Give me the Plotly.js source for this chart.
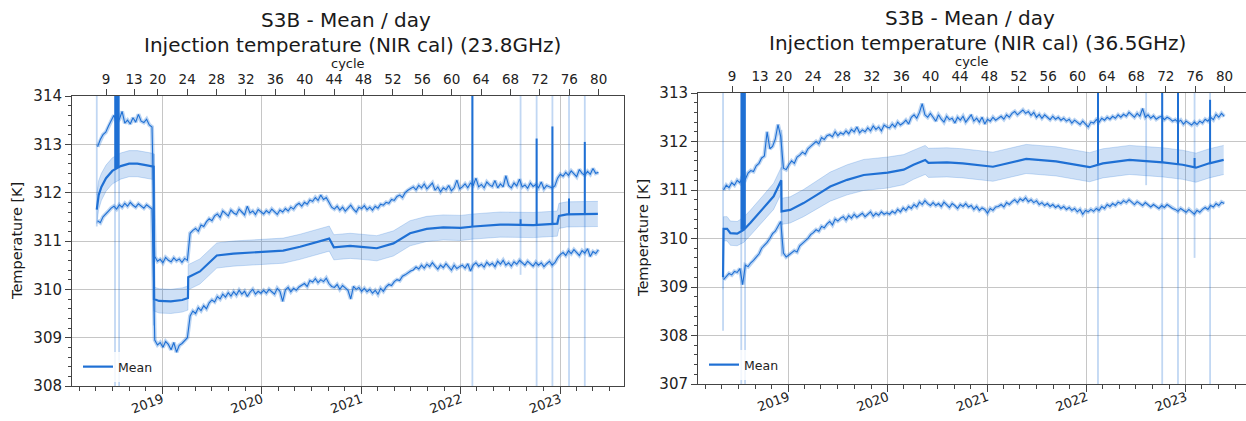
<!DOCTYPE html>
<html><head><meta charset="utf-8">
<script src="https://cdn.plot.ly/plotly-3.0.1.min.js"></script>
<style>html,body{margin:0;padding:0;background:#fff}#chart{width:1246px;height:421px}</style>
</head><body><div id="chart"></div>
<script>
// ---------------- DATA ----------------
const cycleLabels = ['9','13','20','24','28','32','36','40','44','48','52','56','60','64','68','72','76','80'];
const cycleDates = ['2018-06-08','2018-09-19','2018-12-15','2019-04-02','2019-07-19','2019-11-04','2020-02-20','2020-06-07','2020-09-23','2021-01-09','2021-04-27','2021-08-13','2021-11-29','2022-03-17','2022-07-03','2022-10-19','2023-02-04','2023-05-23'];

// daily-extreme series sampled every 10 days starting at this date
const gridStart = '2018-05-08';
const gridStepDays = 10;

// ---- 23.8 GHz ----
const meanDates238 = ['2018-05-05','2018-05-12','2018-05-22','2018-06-08','2018-07-01','2018-08-01','2018-09-01','2018-10-01','2018-11-01','2018-11-30','2018-12-01','2018-12-20','2019-02-01','2019-03-15','2019-04-05','2019-04-06','2019-05-19','2019-06-13','2019-07-20','2019-09-19','2020-01-01','2020-03-20','2020-05-21','2020-07-21','2020-09-05','2020-09-22','2020-11-21','2021-01-01','2021-02-27','2021-04-29','2021-06-29','2021-08-29','2021-10-29','2022-01-01','2022-02-17','2022-05-26','2022-09-25','2022-12-22','2022-12-28','2023-01-26','2023-05-20'];
const mean238 = [311.65,311.95,312.12,312.3,312.45,312.55,312.6,312.6,312.57,312.54,309.8,309.76,309.75,309.78,309.82,310.25,310.37,310.5,310.7,310.74,310.78,310.8,310.88,310.98,311.05,310.87,310.9,310.88,310.85,310.95,311.16,311.25,311.28,311.27,311.3,311.34,311.33,311.36,311.52,311.55,311.56];
const std238 = [0.3,0.3,0.28,0.27,0.27,0.27,0.27,0.27,0.27,0.27,0.25,0.25,0.25,0.25,0.25,0.26,0.26,0.26,0.26,0.26,0.26,0.26,0.26,0.26,0.26,0.26,0.26,0.26,0.26,0.26,0.26,0.26,0.26,0.26,0.26,0.26,0.26,0.26,0.26,0.26,0.26];
const max238 = [312.95,313.1,313.2,313.25,313.38,313.5,313.6,313.45,313.52,313.68,313.44,313.5,313.42,313.55,313.46,313.62,313.48,313.45,313.52,313.4,313.36,
 310.68,310.58,310.62,310.55,310.66,310.6,310.57,310.65,310.59,310.63,310.56,310.64,310.6,
 311.16,311.22,311.26,311.2,311.33,311.3,311.4,311.46,311.42,311.52,311.56,311.49,311.62,311.57,311.52,311.64,311.58,311.55,311.66,311.6,311.54,311.72,311.58,311.62,311.55,311.65,311.6,
 311.56,311.63,311.58,311.66,311.6,311.55,311.64,311.6,311.67,311.62,311.7,311.66,311.74,311.78,
 311.72,311.8,311.76,311.85,311.82,311.9,311.84,311.95,311.86,311.9,311.8,311.7,
 311.66,311.72,311.64,311.7,311.62,311.68,311.74,311.66,311.6,311.7,311.67,311.73,311.65,311.7,311.64,311.72,311.68,311.76,311.74,
 311.8,311.78,311.86,311.84,311.92,311.95,311.9,312.0,312.05,312.09,
 312.12,312.06,312.15,312.1,312.18,312.08,312.13,312.2,312.05,312.12,312.02,312.1,312.06,312.15,312.04,312.1,312.26,312.08,
 312.12,312.18,312.1,312.2,312.15,312.3,312.12,312.17,312.1,312.22,312.16,312.13,312.25,312.1,312.18,312.12,312.35,312.15,312.1,312.2,312.14,312.28,312.12,312.16,312.09,312.2,312.13,312.17,312.1,312.22,312.08,312.15,312.12,312.1,312.14,
 312.3,312.38,312.34,312.42,312.36,312.45,312.38,312.33,312.48,312.4,312.36,312.44,312.38,312.5,312.4,312.42];
const min238 = [311.42,311.38,311.5,311.55,311.62,311.68,311.72,311.66,311.75,311.7,311.78,311.72,311.8,311.74,311.7,311.77,311.72,311.68,311.75,311.7,311.66,
 308.95,308.85,308.9,308.8,308.92,308.86,308.75,308.9,308.7,308.84,308.88,308.95,309.0,
 309.45,309.55,309.5,309.62,309.56,309.66,309.6,309.72,309.78,309.74,309.85,309.8,309.9,309.84,309.93,309.86,309.95,309.88,309.98,309.9,309.96,309.85,309.94,310.0,309.9,309.96,309.92,
 309.98,309.92,310.0,309.95,309.9,310.02,309.96,309.75,309.99,310.04,309.95,310.02,309.98,310.05,
 310.08,310.12,310.06,310.18,310.15,310.22,310.14,310.2,310.16,310.23,310.12,310.06,
 310.04,310.1,310.0,310.08,310.03,309.98,309.8,310.06,310.0,310.04,309.96,310.02,309.95,310.0,309.92,309.98,309.9,310.02,309.96,
 310.05,310.1,310.08,310.16,310.2,310.18,310.27,310.3,310.34,310.38,
 310.4,310.46,310.42,310.5,310.44,310.52,310.47,310.55,310.48,310.42,310.5,310.45,310.53,310.46,310.4,310.5,310.43,310.47,
 310.5,310.44,310.53,310.38,310.5,310.55,310.48,310.52,310.46,310.56,310.5,310.54,310.47,310.58,310.52,310.6,310.5,310.55,310.48,310.57,310.52,310.6,310.54,310.5,310.58,310.53,310.48,310.56,310.5,310.55,310.47,310.53,310.58,310.5,310.55,
 310.65,310.72,310.76,310.7,310.8,310.74,310.82,310.76,310.7,310.8,310.75,310.84,310.68,310.78,310.74,310.82];
// days with a very large spread (light strips) and off-scale daily means (dark spikes)
const stripDates238 = ['2018-05-05','2018-07-11','2018-07-26','2018-12-01','2022-02-13','2022-08-09','2022-10-07','2022-12-04','2023-02-03','2023-04-02'];
const stripLow238 = [311.3,307.5,307.5,309.25,307.5,310.3,307.5,307.5,307.5,307.5];
const stripHigh238 = [314.5,314.5,314.5,312.8,314.5,314.5,314.5,314.5,314.5,314.5];
const spikeDates238 = ['2018-07-12','2018-07-15','2018-07-18','2018-07-21','2018-07-24','2022-02-13','2022-08-09','2022-10-07','2022-12-04','2023-02-03','2023-04-02'];
const spikeBase238 = [312.5,312.5,312.52,312.52,312.53,311.3,311.33,311.33,311.35,311.55,311.56];
const spikeTop238 = [314.5,314.5,314.5,314.5,314.5,314.5,311.45,313.12,313.37,311.88,313.05];

// ---- 36.5 GHz ----
const meanDates365 = ['2018-05-06','2018-05-08','2018-05-21','2018-06-02','2018-06-27','2018-07-21','2018-08-14','2018-10-02','2018-11-08','2018-12-06','2018-12-07','2019-01-08','2019-02-26','2019-04-16','2019-06-04','2019-08-05','2019-10-05','2020-01-01','2020-02-29','2020-04-05','2020-05-18','2020-05-30','2020-08-06','2020-10-03','2021-01-22','2021-05-24','2021-09-11','2022-01-12','2022-03-02','2022-06-08','2022-10-08','2022-12-20','2023-02-07','2023-03-28','2023-05-20'];
const mean365 = [309.2,310.2,310.2,310.11,310.1,310.18,310.32,310.63,310.87,311.2,310.56,310.59,310.73,310.9,311.07,311.21,311.31,311.36,311.42,311.52,311.62,311.56,311.57,311.55,311.48,311.64,311.59,311.47,311.55,311.62,311.57,311.52,311.46,311.55,311.62];
const std365 = [0.25,0.25,0.25,0.25,0.25,0.26,0.26,0.27,0.27,0.27,0.27,0.27,0.28,0.29,0.3,0.31,0.32,0.32,0.31,0.3,0.3,0.3,0.3,0.3,0.3,0.3,0.3,0.3,0.3,0.3,0.3,0.3,0.3,0.3,0.3];
const max365 = [311.0,311.1,311.05,311.15,311.1,311.2,311.15,311.28,311.22,311.35,311.4,311.38,311.5,311.55,311.66,311.7,312.2,311.85,311.9,312.05,312.35,312.1,
 311.45,311.42,311.52,311.6,311.55,311.68,311.72,311.78,311.74,311.85,311.9,311.95,
 312.0,311.95,312.08,312.04,312.12,312.14,312.1,312.2,312.12,312.18,312.15,312.22,312.16,312.25,312.2,312.3,312.18,312.24,312.2,312.28,312.22,312.32,312.25,312.3,312.22,312.34,312.3,
 312.28,312.36,312.3,312.4,312.34,312.38,312.44,312.36,312.5,312.55,312.48,312.6,312.78,312.55,312.5,312.58,
 312.5,312.42,312.55,312.46,312.4,312.52,312.45,312.48,312.38,312.5,312.44,312.52,312.4,312.47,312.55,312.42,312.48,312.4,312.5,312.36,312.46,312.42,312.5,312.44,
 312.48,312.52,312.46,312.55,312.5,312.58,312.62,312.55,312.6,312.65,312.58,312.62,312.54,312.6,312.5,312.56,312.48,312.55,312.5,312.45,312.52,312.46,312.5,312.44,312.48,
 312.42,312.46,312.38,312.44,312.4,312.35,312.42,312.36,312.3,312.4,312.38,312.45,312.4,312.48,312.44,312.5,312.46,312.52,312.48,312.55,
 312.5,312.56,312.52,312.6,312.54,312.5,312.58,312.52,312.68,312.5,312.55,312.48,312.53,312.46,312.5,312.52,312.45,312.5,312.47,312.42,
 312.45,312.4,312.44,312.36,312.42,312.38,312.34,312.4,312.35,312.42,312.38,312.46,312.42,312.5,312.45,312.56,312.5,312.58,312.52];
const min365 = [309.15,309.22,309.28,309.25,309.32,309.3,309.38,309.05,309.45,309.42,309.5,309.55,309.62,309.68,309.8,309.85,309.92,310.0,310.1,310.15,310.25,310.35,
 309.7,309.62,309.66,309.7,309.75,309.72,309.85,309.9,309.95,310.0,310.08,310.12,
 310.18,310.15,310.25,310.22,310.3,310.35,310.28,310.4,310.36,310.42,310.45,310.38,310.47,310.42,310.5,310.44,310.48,310.52,310.45,310.5,310.55,310.46,310.52,310.48,310.55,310.5,310.53,
 310.5,310.56,310.52,310.6,310.55,310.63,310.58,310.66,310.62,310.7,310.65,310.75,310.7,310.78,310.72,310.68,
 310.74,310.68,310.72,310.66,310.75,310.7,310.64,310.72,310.68,310.62,310.7,310.66,310.72,310.65,310.68,310.6,310.66,310.58,310.63,310.6,310.52,310.62,310.58,310.65,
 310.66,310.7,310.65,310.74,310.7,310.76,310.8,310.74,310.82,310.78,310.84,310.76,310.8,310.74,310.78,310.7,310.74,310.68,310.72,310.66,310.7,310.64,310.68,310.62,310.66,
 310.6,310.64,310.58,310.62,310.55,310.6,310.5,310.58,310.55,310.6,310.56,310.62,310.58,310.66,310.62,310.7,310.66,310.72,310.68,310.75,
 310.72,310.78,310.74,310.8,310.75,310.7,310.76,310.72,310.68,310.74,310.7,310.65,310.7,310.66,310.62,310.68,310.64,310.7,310.66,310.62,
 310.6,310.56,310.62,310.58,310.54,310.6,310.55,310.5,310.58,310.54,310.6,310.64,310.6,310.68,310.65,310.72,310.68,310.75,310.72];
const stripDates365 = ['2018-05-06','2018-07-12','2018-07-26','2018-12-07','2022-02-12','2022-08-08','2022-10-06','2022-12-03','2023-02-02','2023-03-31'];
const stripLow365 = [308.1,306.5,306.5,309.63,306.5,311.1,306.5,306.5,309.6,306.5];
const stripHigh365 = [313.5,313.5,313.5,312.24,313.5,313.5,313.5,313.5,313.5,313.5];
const spikeDates365 = ['2018-07-13','2018-07-16','2018-07-19','2018-07-22','2018-07-25','2022-02-12','2022-10-06','2022-12-03','2023-02-02','2023-03-31'];
const spikeBase365 = [310.18,310.18,310.18,310.2,310.22,311.53,311.57,311.53,311.46,311.54];
const spikeTop365 = [313.5,313.5,313.5,313.5,313.5,313.5,313.5,313.5,311.66,312.86];

// ---------------- STYLE ----------------
const W = 1246, H = 421;
const FONT = 'DejaVu Sans, sans-serif';
const BLUE = '#1f70d4';
const HALO = 'rgba(31,112,212,0.30)';
const BANDFILL = 'rgba(31,112,212,0.22)';
const BANDEDGE = 'rgba(31,112,212,0.28)';
const STRIP = 'rgba(31,112,212,0.28)';
const AXC = '#444';
const GRIDC = '#c6c6c6';
const px = v => v / W;
const py = v => 1 - v / H;
const DAY = 86400000;

function segs(dates, lo, hi) {
  const x = [], y = [];
  dates.forEach((d, k) => { x.push(d, d, null); y.push(lo[k], hi[k], null); });
  return {x, y};
}

function panel(ax, ay, axTop, mD, mV, sV, maxV, minV, stD, stLo, stHi, spD, spB, spT, legendId) {
  const lo = mV.map((v, k) => v - sV[k]);
  const hi = mV.map((v, k) => v + sV[k]);
  const st = segs(stD, stLo, stHi);
  const sp = segs(spD, spB, spT);
  const c = {type: 'scatter', mode: 'lines', xaxis: ax, yaxis: ay, hoverinfo: 'skip', showlegend: false};
  const grid = {x0: gridStart, dx: gridStepDays * DAY};
  return [
    {...c, x: mD, y: lo, line: {color: BANDEDGE, width: 0.8}},
    {...c, x: mD, y: hi, fill: 'tonexty', fillcolor: BANDFILL, line: {color: BANDEDGE, width: 0.8}},
    {...c, x: st.x, y: st.y, line: {color: STRIP, width: 1.8}},
    {...c, ...grid, y: maxV, line: {color: HALO, width: 4}},
    {...c, ...grid, y: maxV, line: {color: BLUE, width: 1.1}},
    {...c, ...grid, y: minV, line: {color: HALO, width: 4}},
    {...c, ...grid, y: minV, line: {color: BLUE, width: 1.1}},
    {...c, x: mD, y: mV, name: 'Mean', showlegend: true, legend: legendId, line: {color: BLUE, width: 2.2}},
    {...c, x: sp.x, y: sp.y, line: {color: BLUE, width: 2}},
    // carrier for the top "cycle" axis (no visible marks)
    {...c, xaxis: axTop, x: cycleDates, y: cycleDates.map(() => null), line: {width: 0}}
  ];
}

const data = [
  ...panel('x', 'y', 'x3', meanDates238, mean238, std238, max238, min238, stripDates238, stripLow238, stripHigh238, spikeDates238, spikeBase238, spikeTop238, 'legend'),
  ...panel('x2', 'y2', 'x4', meanDates365, mean365, std365, max365, min365, stripDates365, stripLow365, stripHigh365, spikeDates365, spikeBase365, spikeTop365, 'legend2')
];

function bottomAxis(domain, range, anchor) {
  return {
    type: 'date', domain, range, anchor, autorange: false,
    showline: true, linecolor: AXC, linewidth: 1, mirror: false,
    ticks: 'outside', ticklen: 7, tickcolor: AXC, tickwidth: 1,
    tick0: '2019-01-01', dtick: 'M12', tickformat: '%Y', tickangle: -20,
    ticklabelstandoff: -7,
    tickfont: {family: FONT, size: 13, color: '#222'},
    showgrid: true, gridcolor: GRIDC, gridwidth: 1, zeroline: false,
    minor: {tick0: '2019-01-01', dtick: 'M2', ticks: 'outside', ticklen: 4, tickcolor: AXC, showgrid: false}
  };
}
function topAxis(over, range, anchor) {
  return {
    type: 'date', overlaying: over, side: 'top', anchor, range, autorange: false,
    tickmode: 'array', tickvals: cycleDates, ticktext: cycleLabels,
    showline: true, linecolor: AXC, linewidth: 1,
    ticks: 'outside', ticklen: 6, tickcolor: AXC, tickangle: 0,
    tickfont: {family: FONT, size: 13.5, color: '#222'},
    showgrid: false, zeroline: false
  };
}
function leftAxis(domain, range, anchor, mirror) {
  return {
    domain, range, anchor, dtick: 1, tick0: range[0], autorange: false,
    showline: true, linecolor: AXC, linewidth: 1, mirror,
    ticks: 'outside', ticklen: 6, tickcolor: AXC,
    tickfont: {family: FONT, size: 15, color: '#222'},
    showgrid: true, gridcolor: GRIDC, gridwidth: 1, zeroline: false,
    minor: {dtick: 0.2, ticks: 'outside', ticklen: 3, tickcolor: AXC, showgrid: false}
  };
}

const rangeL = ['2018-02-03', '2023-08-24'];
const rangeR = ['2018-02-03', '2023-08-10'];

const ann = (text, x, y, size, angle) => ({
  text, xref: 'paper', yref: 'paper', x: px(x), y: py(y), xanchor: 'center', yanchor: 'middle',
  showarrow: false, textangle: angle || 0, font: {family: FONT, size, color: '#1a1a1a'}
});

const layout = {
  width: W, height: H,
  margin: {l: 0, r: 0, t: 0, b: 0},
  paper_bgcolor: '#fff', plot_bgcolor: '#fff',
  font: {family: FONT},
  xaxis: bottomAxis([px(72), px(624)], rangeL, 'y'),
  xaxis3: topAxis('x', rangeL, 'y'),
  yaxis: leftAxis([py(386), py(96)], [308, 314], 'x', true),
  xaxis2: bottomAxis([px(698), 1], rangeR, 'y2'),
  xaxis4: topAxis('x2', rangeR, 'y2'),
  yaxis2: leftAxis([py(384), py(93)], [307, 313], 'x2', false),
  legend: {x: px(78), y: py(367), xanchor: 'left', yanchor: 'middle', bgcolor: 'rgba(255,255,255,0.8)', borderwidth: 0, font: {family: FONT, size: 12.5, color: '#222'}},
  legend2: {x: px(704), y: py(365), xanchor: 'left', yanchor: 'middle', bgcolor: 'rgba(255,255,255,0.8)', borderwidth: 0, font: {family: FONT, size: 12.5, color: '#222'}},
  annotations: [
    ann('S3B - Mean / day', 346, 20, 20),
    ann('Injection temperature (NIR cal) (23.8GHz)', 352, 45, 20),
    ann('S3B - Mean / day', 970, 18, 20),
    ann('Injection temperature (NIR cal) (36.5GHz)', 977, 43, 20),
    ann('cycle', 348, 63, 13),
    ann('cycle', 972, 61, 13),
    ann('Temperature [K]', 17, 241, 14.5, -90),
    ann('Temperature [K]', 643, 238, 14.5, -90)
  ]
};

Plotly.newPlot('chart', data, layout, {staticPlot: true, displayModeBar: false});
</script></body></html>
